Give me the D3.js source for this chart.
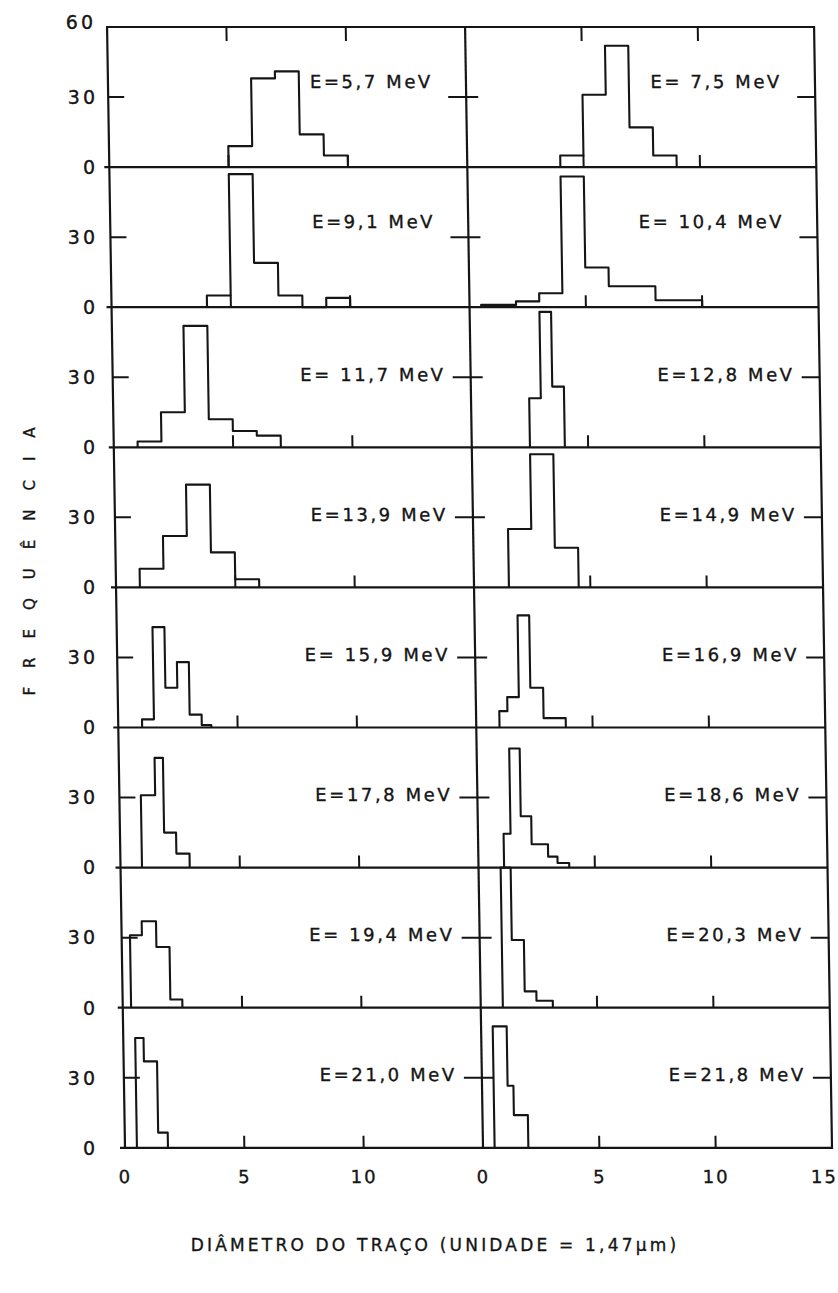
<!DOCTYPE html>
<html><head><meta charset="utf-8">
<script src="https://cdn.jsdelivr.net/npm/d3@7"></script>
<style>
body{margin:0;background:#fff}
svg{display:block}
text{font-family:"DejaVu Sans",sans-serif;fill:#151515;stroke:#151515;stroke-width:0.35px}
</style>
</head><body>
<svg id="chart" width="838" height="1293"></svg>
<script>
// ---- data (row-major: left panel, right panel) ----
const energyLabels = [
  "E=5,7 MeV", "E= 7,5 MeV",
  "E=9,1 MeV", "E= 10,4 MeV",
  "E= 11,7 MeV", "E=12,8 MeV",
  "E=13,9 MeV", "E=14,9 MeV",
  "E= 15,9 MeV", "E=16,9 MeV",
  "E=17,8 MeV", "E=18,6 MeV",
  "E= 19,4 MeV", "E=20,3 MeV",
  "E=21,0 MeV", "E=21,8 MeV"
];
const binEdges = [
  [5, 6, 7, 8, 9, 10],
  [4, 5, 6, 7, 8, 9],
  [4, 5, 6, 7, 8, 9, 10],
  [0.5, 2, 3, 4, 5, 6, 8, 10],
  [1, 2, 3, 4, 5, 6, 7],
  [2.5, 3, 3.5, 4],
  [1, 2, 3, 4, 5, 6],
  [1.5, 2.5, 3.5, 4.5],
  [1, 1.5, 2, 2.5, 3, 3.5, 3.9],
  [1, 1.35, 1.85, 2.35, 2.9, 3.85],
  [0.9, 1.5, 1.85, 2.35, 2.9],
  [1.1, 1.4, 1.85, 2.3, 3, 3.4, 3.9],
  [0.35, 0.85, 1.45, 2, 2.5],
  [0.95, 1.38, 1.9, 2.4, 3.1],
  [0.5, 0.85, 1.4, 1.8],
  [0.5, 1.1, 1.35, 1.95]
];
const binCounts = [
  [9, 38, 41, 14, 5],
  [5, 31, 52, 17, 5],
  [5, 57, 19, 5, 0, 4],
  [1, 2.5, 6, 56, 17, 9, 3],
  [2.5, 15, 52, 12, 7, 5],
  [21, 58, 26],
  [8, 22, 44, 15, 3.5],
  [25, 57, 17],
  [3.5, 43, 17, 28, 5.5, 1],
  [7, 13, 48, 17, 4],
  [31, 47, 15, 6],
  [14.5, 51, 22, 10, 4.7, 2],
  [31, 37, 26, 3.5],
  [60, 29, 7, 3],
  [47, 37, 6.5],
  [52, 26.6, 14]
];
const xTicksLeft = [0, 5, 10];
const xTicksRight = [0, 5, 10, 15];
const innerXTicks = [5, 10];
const yTickValues = [0, 30];
const yTopLabel = 60;
const xTitle = "DIÂMETRO DO TRAÇO (UNIDADE = 1,47μm)";
const yTitle = "FREQUÊNCIA";

// ---- layout ----
const svg = d3.select("#chart");
const topY = 27, rowH = 140.1, nRows = 8;
const L = 116, M = 474, R = 823;
const yc = 585, k = 0.016;           // slight shear of the scanned original
const ink = "#151515";

const xScales = [d3.scaleLinear().domain([0, 15]).range([L, M]),
                 d3.scaleLinear().domain([0, 15]).range([M, R])];
const yScale = i => d3.scaleLinear().domain([0, 60]).range([topY + (i + 1) * rowH, topY + i * rowH]);

const g = svg.append("g")
  .attr("transform", `translate(${-k * yc},0) skewX(${Math.atan(k) * 180 / Math.PI})`);

// frame
const bottomY = topY + nRows * rowH;
g.append("rect").attr("x", L).attr("y", topY).attr("width", R - L).attr("height", bottomY - topY)
  .attr("fill", "none").attr("stroke", ink).attr("stroke-width", 2.2);
g.append("line").attr("x1", M).attr("x2", M).attr("y1", topY).attr("y2", bottomY)
  .attr("stroke", ink).attr("stroke-width", 2.2);
d3.range(nRows - 1).forEach(i => {
  const y = yScale(i)(0);
  g.append("line").attr("x1", L - 5).attr("x2", R).attr("y1", y).attr("y2", y)
    .attr("stroke", ink).attr("stroke-width", 2.2);
});
g.append("line").attr("x1", L - 5).attr("x2", L).attr("y1", bottomY).attr("y2", bottomY)
  .attr("stroke", ink).attr("stroke-width", 2.2);

// ticks
for (let i = 0; i < nRows; i++) {
  const y = yScale(i);
  const y30 = y(30);
  g.append("line").attr("x1", L).attr("x2", L + 16).attr("y1", y30).attr("y2", y30).attr("stroke", ink).attr("stroke-width", 2);
  g.append("line").attr("x1", M - 18).attr("x2", M + 12).attr("y1", y30).attr("y2", y30).attr("stroke", ink).attr("stroke-width", 2);
  g.append("line").attr("x1", R - 18).attr("x2", R).attr("y1", y30).attr("y2", y30).attr("stroke", ink).attr("stroke-width", 2);
  xScales.forEach(x => {
    innerXTicks.forEach(v => {
      g.append("line").attr("x1", x(v)).attr("x2", x(v)).attr("y1", y(0)).attr("y2", y(0) - 12)
        .attr("stroke", ink).attr("stroke-width", 2);
      if (i === 0) {
        g.append("line").attr("x1", x(v)).attr("x2", x(v)).attr("y1", y(60)).attr("y2", y(60) + 14)
          .attr("stroke", ink).attr("stroke-width", 2);
      }
    });
  });
  // y tick labels: typed in a straight column left of the frame
  yTickValues.forEach(v => {
    svg.append("text").attr("x", 98).attr("y", y(v)).attr("dy", "0.36em")
      .attr("text-anchor", "end").attr("font-size", 19).attr("letter-spacing", 3)
      .text(v);
  });
}
svg.append("text").attr("x", 96).attr("y", yScale(0)(yTopLabel)).attr("dy", "0.1em")
  .attr("text-anchor", "end").attr("font-size", 19).attr("letter-spacing", 3).text(yTopLabel);

// histograms
const line = d3.line();
binEdges.forEach((edges, p) => {
  const row = Math.floor(p / 2), col = p % 2;
  const x = xScales[col], y = yScale(row);
  const counts = binCounts[p];
  const pts = [[x(edges[0]), y(0)]];
  counts.forEach((c, j) => {
    pts.push([x(edges[j]), y(c)]);
    pts.push([x(edges[j + 1]), y(c)]);
  });
  pts.push([x(edges[edges.length - 1]), y(0)]);
  g.append("path").attr("d", line(pts)).attr("fill", "none")
    .attr("stroke", ink).attr("stroke-width", 2.1).attr("stroke-linejoin", "round");

  const colRight = col === 0 ? M : R;
  g.append("text").attr("x", colRight - (row < 2 ? 33 : 25)).attr("y", y(row < 2 ? 34 : 28.5))
    .attr("text-anchor", "end").attr("font-size", 18).attr("letter-spacing", 2.6)
    .style("white-space", "pre")
    .text(energyLabels[p]);
});

// x tick labels
const yLab = bottomY + 29;
[[xScales[0], xTicksLeft], [xScales[1], xTicksRight]].forEach(([x, ticks]) => {
  ticks.forEach(v => {
    g.append("text").attr("x", Math.min(x(v), R - 8)).attr("y", yLab).attr("dy", "0.36em")
      .attr("text-anchor", "middle").attr("font-size", 18).attr("letter-spacing", 2).text(v);
  });
});

// axis titles (outside the shear)
svg.append("text").attr("x", 435).attr("y", 1251).attr("text-anchor", "middle")
  .attr("font-size", 17).attr("letter-spacing", 3.2).text(xTitle);
svg.append("text").attr("transform", "translate(35,552) rotate(-90)")
  .attr("text-anchor", "middle").attr("font-size", 15).attr("letter-spacing", 19).text(yTitle);
</script>
</body></html>
